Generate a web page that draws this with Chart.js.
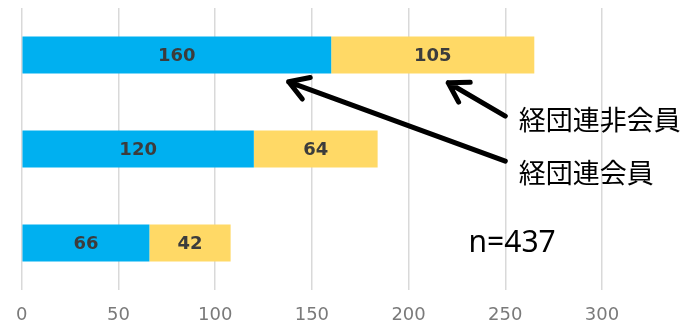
<!DOCTYPE html>
<html lang="ja">
<head>
  <meta charset="UTF-8" />
  <title>経団連会員・非会員</title>
  <script src="https://cdn.jsdelivr.net/npm/chart.js"></script>
  <style>
    html, body {
      margin: 0;
      padding: 0;
      background: #fff;
      overflow: hidden;
    }
    #wrap {
      position: relative;
      width: 688px;
      height: 324px;
    }
  </style>
</head>
<body>
  <div id="wrap">
    <canvas id="chart"></canvas>
  </div>

  <script>
    // データ
    const categories = ['', '', ''];
    const memberValues = [160, 120, 66];     // 経団連会員
    const nonMemberValues = [105, 64, 42];   // 経団連非会員
    const xTicks = [0, 50, 100, 150, 200, 250, 300];

    // 注記（x は値、y はカテゴリ位置）
    const notes = [
      { text: '経団連非会員', x: 257, y: 0.69 },
      { text: '経団連会員', x: 257, y: 1.25 },
    ];
    const sampleNote = { text: 'n=437', x: 231, y: 2.0 };

    // 矢印（from → tip）
    const arrows = [
      { from: [250, 0.65], tip: [220.5, 0.295] },
      { from: [250, 1.13], tip: [138, 0.285] },
    ];

    // 棒の中央に数値を描く
    const valueLabels = {
      id: 'valueLabels',
      afterDatasetsDraw(chart) {
        const ctx = chart.ctx;
        ctx.save();
        ctx.font = 'bold 18px "DejaVu Sans", Verdana, sans-serif';
        ctx.fillStyle = '#3c3c3c';
        ctx.textAlign = 'center';
        ctx.textBaseline = 'middle';
        chart.data.datasets.forEach((ds, i) => {
          chart.getDatasetMeta(i).data.forEach((bar, j) => {
            const cx = (bar.x + bar.base) / 2;
            ctx.fillText(ds.data[j], cx, bar.y + 1);
          });
        });
        ctx.restore();
      }
    };

    // 矢印と注記
    const annotations = {
      id: 'annotations',
      afterDraw(chart) {
        const ctx = chart.ctx;
        const xs = chart.scales.x;
        const ys = chart.scales.y;
        const px = (v) => xs.getPixelForValue(v);
        const py = (v) => ys.getPixelForValue(v);
        ctx.save();

        ctx.strokeStyle = '#000';
        ctx.lineWidth = 5;
        ctx.lineCap = 'round';
        ctx.lineJoin = 'round';
        arrows.forEach(a => {
          const x1 = px(a.from[0]), y1 = py(a.from[1]);
          const x2 = px(a.tip[0]), y2 = py(a.tip[1]);
          const ang = Math.atan2(y1 - y2, x1 - x2);
          const head = 22;
          ctx.beginPath();
          ctx.moveTo(x1, y1);
          ctx.lineTo(x2, y2);
          ctx.moveTo(x2 + head * Math.cos(ang - 0.55), y2 + head * Math.sin(ang - 0.55));
          ctx.lineTo(x2, y2);
          ctx.lineTo(x2 + head * Math.cos(ang + 0.55), y2 + head * Math.sin(ang + 0.55));
          ctx.stroke();
        });

        ctx.fillStyle = '#000';
        ctx.textAlign = 'left';
        ctx.textBaseline = 'middle';
        ctx.font = '27px "Noto Sans CJK JP", sans-serif';
        notes.forEach(n => ctx.fillText(n.text, px(n.x), py(n.y)));

        ctx.font = '30px "Noto Sans", sans-serif';
        ctx.fillText(sampleNote.text, px(sampleNote.x), py(sampleNote.y));

        ctx.restore();
      }
    };

    new Chart(document.getElementById('chart'), {
      type: 'bar',
      data: {
        labels: categories,
        datasets: [
          {
            label: '経団連会員',
            data: memberValues,
            backgroundColor: '#00B0F0',
            categoryPercentage: 1,
            barPercentage: 0.395,
          },
          {
            label: '経団連非会員',
            data: nonMemberValues,
            backgroundColor: '#FFD966',
            categoryPercentage: 1,
            barPercentage: 0.395,
          }
        ]
      },
      options: {
        indexAxis: 'y',
        responsive: true,
        maintainAspectRatio: false,
        animation: false,
        layout: {
          padding: { left: 19, right: 86, top: 8, bottom: 0 }
        },
        scales: {
          x: {
            stacked: true,
            min: 0,
            max: 300,
            afterBuildTicks: (axis) => {
              axis.ticks = xTicks.map(v => ({ value: v }));
            },
            // 軸の高さを固定（目盛ラベルは下端で少し切れる）
            afterFit: (axis) => {
              axis.height = 34;
            },
            grid: {
              color: '#d9d9d9',
              lineWidth: 1.5,
              drawTicks: false,
            },
            border: { display: false },
            ticks: {
              color: '#7a7a7a',
              padding: 16,
              maxRotation: 0,
              font: { family: '"DejaVu Sans", Verdana, sans-serif', size: 18, lineHeight: 1 }
            }
          },
          y: {
            stacked: true,
            display: false,
          }
        },
        plugins: {
          legend: { display: false },
          tooltip: { enabled: false }
        }
      },
      plugins: [valueLabels, annotations]
    });
  </script>
</body>
</html>
